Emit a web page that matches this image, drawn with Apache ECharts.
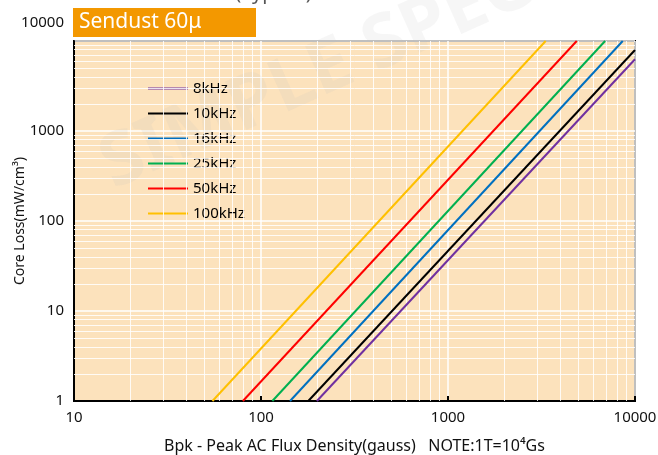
<!DOCTYPE html>
<html><head><meta charset="utf-8">
<script src="https://cdn.jsdelivr.net/npm/echarts@6/dist/echarts.min.js"></script>
<style>html,body{margin:0;padding:0;background:#fff}#c{width:658px;height:455px}</style>
</head><body><div id="c"></div>
<script>
// Series names and colours
const seriesNames = ['8kHz', '10kHz', '16kHz', '25kHz', '50kHz', '100kHz'];
const seriesColors = ['#7030A0', '#000000', '#0070C0', '#00B050', '#FF0000', '#FFC000'];
// Each curve: [flux density (gauss), core loss (mW/cm3)] end points
const curve8kHz = [[199, 1], [10000, 6270]];
const curve10kHz = [[179, 1], [10000, 7940]];
const curve16kHz = [[143, 1], [8600, 10000]];
const curve25kHz = [[115, 1], [6920, 10000]];
const curve50kHz = [[80, 1], [4880, 10000]];
const curve100kHz = [[55, 1], [3330, 10000]];
const curves = [curve8kHz, curve10kHz, curve16kHz, curve25kHz, curve50kHz, curve100kHz];
// Axis settings
const xTicks = [10, 100, 1000, 10000];
const yTicks = [1, 10, 100, 1000, 10000];
const minorMultipliers = [2, 3, 4, 5, 6, 7, 8, 9];

const FONT = '"Noto Sans", "Open Sans", sans-serif';

const xMinor = [];
for (let i = 0; i < xTicks.length - 1; i++) minorMultipliers.forEach(m => xMinor.push(xTicks[i] * m));
const yMinor = [];
for (let i = 0; i < yTicks.length - 1; i++) minorMultipliers.forEach(m => yMinor.push(yTicks[i] * m));

const chart = echarts.init(document.getElementById('c'), null, {renderer: 'canvas'});

const series = curves.map((d, i) => ({
  name: seriesNames[i],
  type: 'line',
  data: d,
  symbol: 'none',
  z: 5,
  lineStyle: {color: seriesColors[i], width: 2},
  itemStyle: {color: seriesColors[i]}
}));
series.unshift({
  name: 'grid',
  type: 'line',
  data: [],
  z: 1,
  silent: true,
  markLine: {
    silent: true,
    symbol: 'none',
    label: {show: false},
    animation: false,
    lineStyle: {color: '#ffffff', width: 1, type: 'solid', opacity: 0.85},
    data: xMinor.map(v => ({xAxis: v})).concat(yMinor.map(v => ({yAxis: v})))
  }
});

chart.setOption({
  animation: false,
  backgroundColor: '#ffffff',
  textStyle: {fontFamily: FONT},
  grid: {
    left: 74, right: 23, top: 41, bottom: 54,
    containLabel: false, outerBoundsMode: 'none',
    show: true, backgroundColor: '#FCE2BC',
    borderColor: '#000', borderWidth: 2
  },
  legend: {
    data: seriesNames,
    orient: 'vertical',
    left: 143, top: 76,
    icon: 'rect',
    itemWidth: 40, itemHeight: 2, itemGap: 10,
    textStyle: {fontSize: 15, lineHeight: 14, color: '#000', fontFamily: FONT}
  },
  xAxis: {
    type: 'log', logBase: 10, min: 10, max: 10000,
    name: 'Bpk - Peak AC Flux Density(gauss)   NOTE:1T=10⁴Gs',
    nameLocation: 'middle', nameGap: 37, nameMoveOverlap: false,
    nameTextStyle: {fontSize: 16, color: '#111', fontFamily: FONT},
    axisLine: {show: true, lineStyle: {color: '#000', width: 2}},
    axisTick: {show: true, inside: true, length: 5, lineStyle: {color: '#000', width: 2}},
    axisLabel: {fontSize: 15, color: '#111', margin: 9, fontFamily: FONT, formatter: v => String(v)},
    splitLine: {show: true, lineStyle: {color: '#ffffff', width: 1.5}}
  },
  yAxis: {
    type: 'log', logBase: 10, min: 1, max: 10000,
    name: 'Core Loss(mW/cm³)',
    nameLocation: 'middle', nameGap: 47, nameRotate: 90, nameMoveOverlap: false,
    nameTextStyle: {fontSize: 14, color: '#111', fontFamily: FONT},
    axisLine: {show: true, lineStyle: {color: '#000', width: 2}},
    axisTick: {show: false},
    axisLabel: {
      fontSize: 15, color: '#111', margin: 10, fontFamily: FONT,
      formatter: v => (v >= 10000 ? '{top|' + v + '}' : String(v)),
      rich: {top: {fontSize: 15, color: '#111', fontFamily: FONT, padding: [0, 0, 36, 0]}}
    },
    splitLine: {show: true, lineStyle: {color: '#ffffff', width: 1.5}}
  },
  graphic: [
    {type: 'text', left: 75, top: -17, z: 10,
     style: {text: 'Core Loss Curves(Typical)', fontSize: 20, fill: '#555', fontFamily: FONT}},
    {type: 'rect', shape: {x: 73, y: 8, width: 183, height: 29}, z: 10,
     style: {fill: '#F39800'}},
    {type: 'text', x: 79, y: 22.5, z: 11,
     style: {text: 'Sendust 60μ', fontSize: 21, fill: '#ffffff', fontFamily: FONT, verticalAlign: 'middle'}},
    {type: 'text', x: 105, y: 170, rotation: 0.42, z: 3, silent: true,
     style: {text: 'SIMPLE SPEC', fontSize: 74, fontWeight: 'bold', fill: 'rgba(190,190,190,0.14)', fontFamily: FONT, verticalAlign: 'middle'}}
  ],
  series: series
});
</script>
</body></html>
